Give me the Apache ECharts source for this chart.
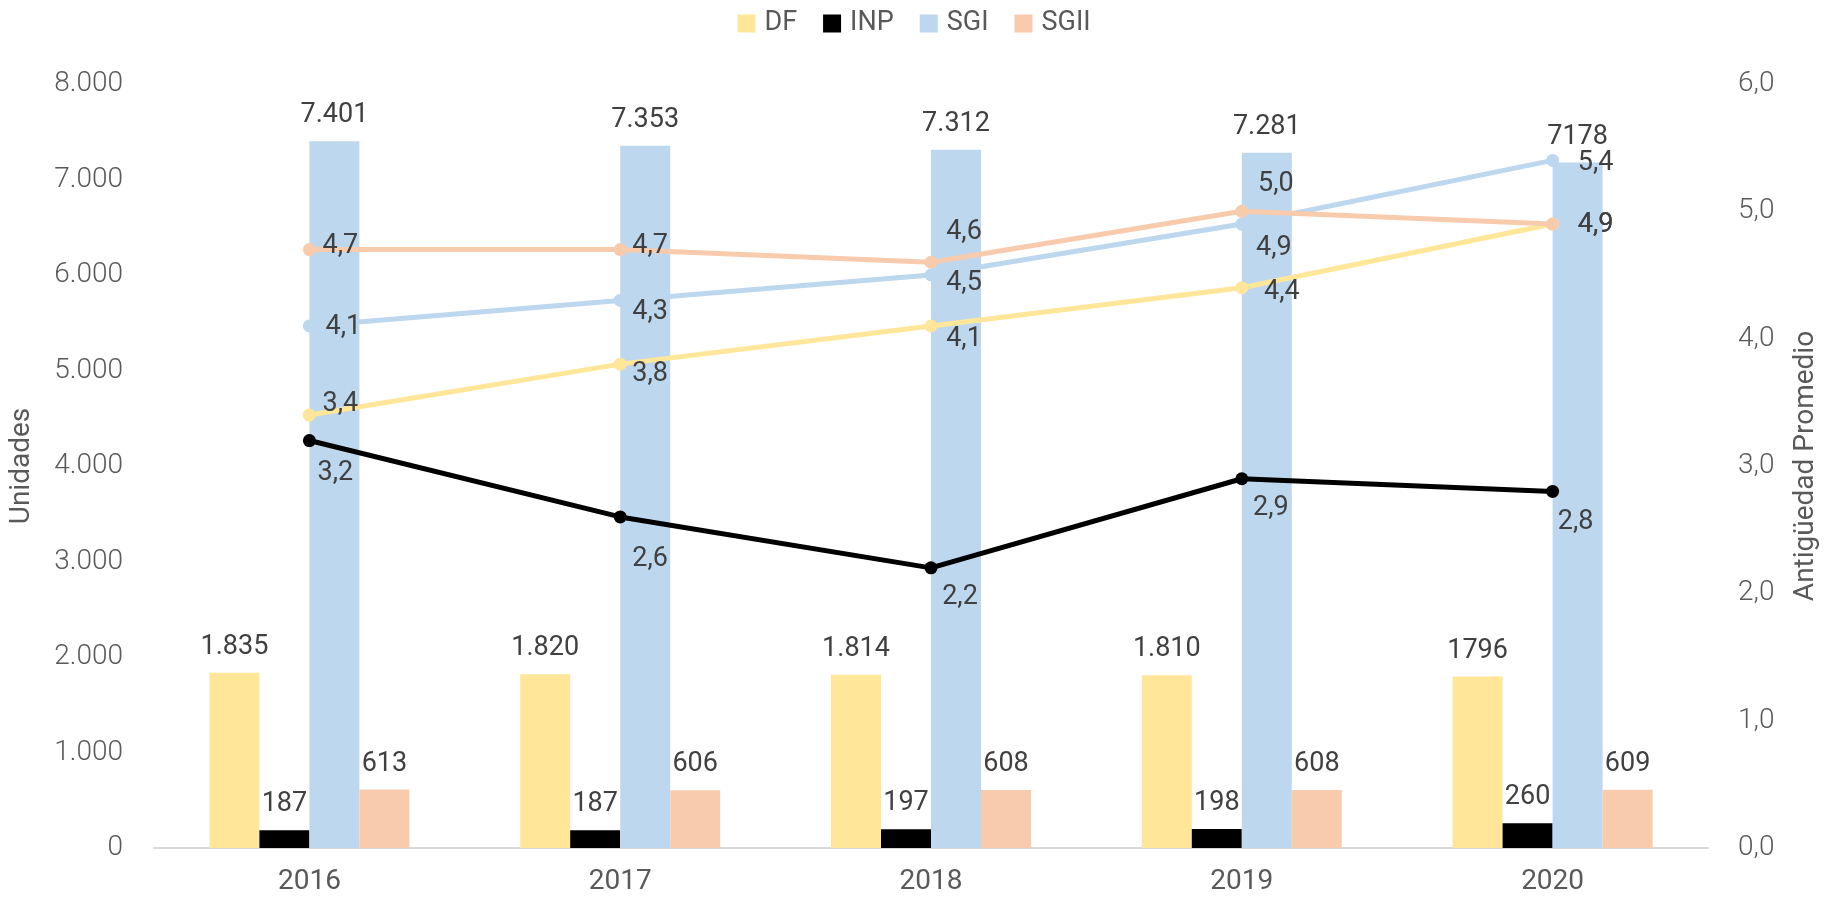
<!DOCTYPE html>
<html>
<head>
<meta charset="utf-8">
<script src="https://cdn.jsdelivr.net/npm/echarts@6/dist/echarts.min.js"></script>
<style>
html,body{margin:0;padding:0;background:#fff;}
#chart{width:1828px;height:902px;}
</style>
</head>
<body>
<div id="chart"></div>
<script>
// ---- data ----
const categories = ['2016', '2017', '2018', '2019', '2020'];
const dfUnits   = [1835, 1820, 1814, 1810, 1796];
const inpUnits  = [187, 187, 197, 198, 260];
const sgiUnits  = [7401, 7353, 7312, 7281, 7178];
const sgiiUnits = [613, 606, 608, 608, 609];
const dfUnitLabels   = ['1.835', '1.820', '1.814', '1.810', '1796'];
const inpUnitLabels  = ['187', '187', '197', '198', '260'];
const sgiUnitLabels  = ['7.401', '7.353', '7.312', '7.281', '7178'];
const sgiiUnitLabels = ['613', '606', '608', '608', '609'];
const dfAge   = [3.4, 3.8, 4.1, 4.4, 4.9];
const inpAge  = [3.2, 2.6, 2.2, 2.9, 2.8];
const sgiAge  = [4.1, 4.3, 4.5, 4.9, 5.4];
const sgiiAge = [4.7, 4.7, 4.6, 5.0, 4.9];
const leftTicks = { min: 0, max: 8000, interval: 1000 };
const rightTicks = { min: 0, max: 6, interval: 1 };

// ---- style ----
const C = { DF: '#FFE699', INP: '#000000', SGI: '#BDD7EE', SGII: '#F8CBAD' };
const FONT = 'Roboto, "Noto Sans", sans-serif';
const labelColor = '#404040';
const axisColor = '#595959';
// label offsets (px) of line value labels relative to the point centre
const dfLabelOff   = [[31, -11], [30, 10], [33, 13], [40, 5], [43, 1]];
const inpLabelOff  = [[26, 33], [30, 42], [29, 29], [29, 30], [23, 31]];
const sgiLabelOff  = [[34, 1], [30, 12], [33, 8], [32, 24], [43, 3]];
const sgiiLabelOff = [[31, -3], [30, -3], [33, -30], [34, -27], [43, 1]];

function fmtThousands(v) {
  return String(v).replace(/\B(?=(\d{3})+(?!\d))/g, '.');
}
function fmtDec(v) { return v.toFixed(1).replace('.', ','); }

function barSeries(name, values, labels) {
  return {
    name: name, type: 'bar', yAxisIndex: 0,
    barWidth: 50, barGap: '0%',
    itemStyle: { color: C[name] },
    label: {
      show: true, position: 'top', distance: 12,
      color: labelColor, fontSize: 27, fontFamily: FONT,
      formatter: p => labels[p.dataIndex]
    },
    data: values,
    z: 2
  };
}
function lineSeries(name, values, offs, z) {
  return {
    name: name, type: 'line', yAxisIndex: 1,
    symbol: 'circle', symbolSize: 13,
    lineStyle: { color: C[name], width: 5 },
    itemStyle: { color: C[name] },
    data: values.map((v, i) => ({
      value: v,
      label: { offset: offs[i] }
    })),
    label: {
      show: true, position: 'inside',
      color: labelColor, fontSize: 27, fontFamily: FONT,
      formatter: p => fmtDec(p.value)
    },
    z: z
  };
}

const chart = echarts.init(document.getElementById('chart'), null, { renderer: 'canvas' });
chart.setOption({
  animation: false,
  backgroundColor: '#ffffff',
  textStyle: { fontFamily: FONT },
  legend: {
    top: 5, left: 'center',
    itemWidth: 18, itemHeight: 18, itemGap: 26,
    textStyle: { fontSize: 27, color: axisColor, fontFamily: FONT, padding: [0, 0, 0, 4] },
    data: [
      { name: 'DF', icon: 'rect' },
      { name: 'INP', icon: 'rect' },
      { name: 'SGI', icon: 'rect' },
      { name: 'SGII', icon: 'rect' }
    ]
  },
  grid: { left: 153, right: 116, top: 84, bottom: 54, containLabel: false },
  xAxis: {
    type: 'category', data: categories,
    axisLine: { lineStyle: { color: '#D9D9D9', width: 2 } },
    axisTick: { show: false },
    axisLabel: { fontSize: 28, color: axisColor, margin: 20, fontFamily: FONT }
  },
  yAxis: [
    {
      type: 'value', min: leftTicks.min, max: leftTicks.max, interval: leftTicks.interval,
      name: 'Unidades', nameLocation: 'middle', nameGap: 118, nameRotate: 90,
      nameTextStyle: { fontSize: 28, color: axisColor, fontFamily: FONT },
      splitLine: { show: false },
      axisLine: { show: false }, axisTick: { show: false },
      axisLabel: { fontSize: 28, color: axisColor, margin: 31, fontFamily: FONT, fontWeight: 300,
        formatter: v => fmtThousands(v) }
    },
    {
      type: 'value', min: rightTicks.min, max: rightTicks.max, interval: rightTicks.interval,
      name: 'Antigüedad Promedio', nameLocation: 'middle', nameGap: 84, nameRotate: 90,
      nameTextStyle: { fontSize: 28, color: axisColor, fontFamily: FONT },
      splitLine: { show: false },
      axisLine: { show: false }, axisTick: { show: false },
      axisLabel: { fontSize: 28, color: axisColor, margin: 30, fontFamily: FONT, fontWeight: 300,
        formatter: v => fmtDec(v) }
    }
  ],
  series: [
    barSeries('DF', dfUnits, dfUnitLabels),
    barSeries('INP', inpUnits, inpUnitLabels),
    barSeries('SGI', sgiUnits, sgiUnitLabels),
    barSeries('SGII', sgiiUnits, sgiiUnitLabels),
    lineSeries('DF', dfAge, dfLabelOff, 5),
    lineSeries('SGI', sgiAge, sgiLabelOff, 6),
    lineSeries('SGII', sgiiAge, sgiiLabelOff, 7),
    lineSeries('INP', inpAge, inpLabelOff, 8)
  ]
});
</script>
</body>
</html>
